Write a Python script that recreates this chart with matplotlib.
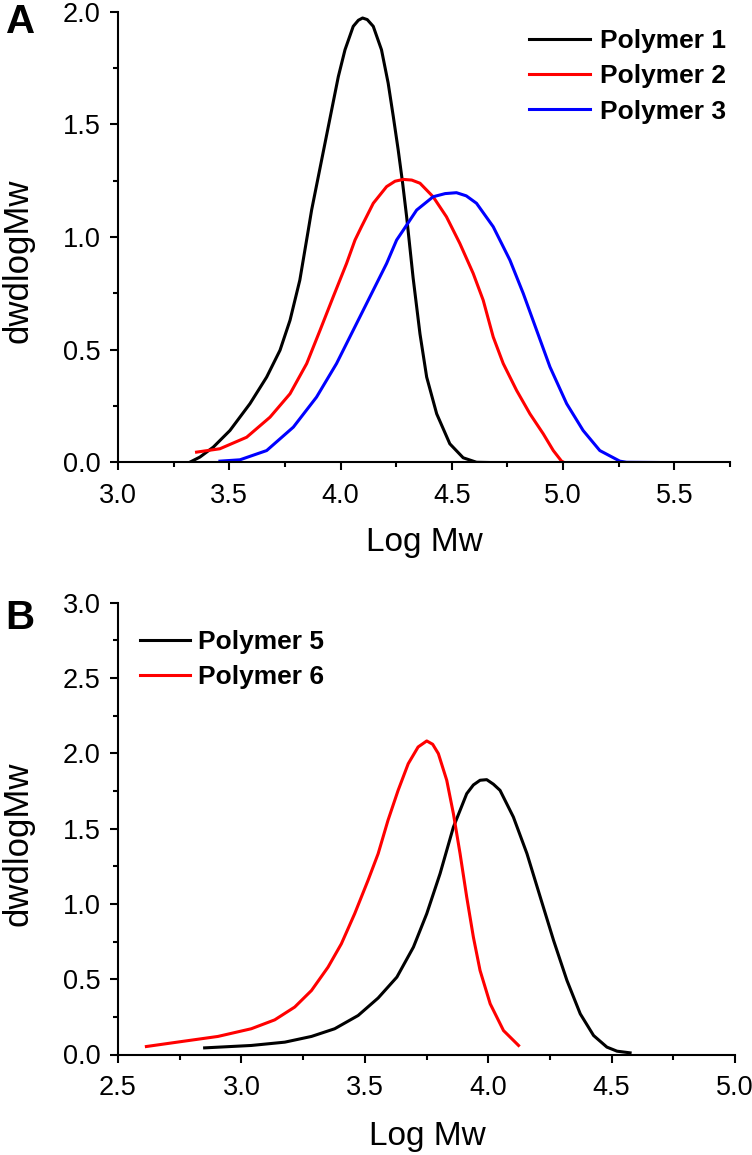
import matplotlib
matplotlib.use('Agg')
import matplotlib.pyplot as plt
from matplotlib.ticker import MultipleLocator


# panel A
p1_x = [3.32, 3.368, 3.428, 3.503, 3.593, 3.668, 3.728, 3.773, 3.817, 3.855, 3.870, 3.900, 3.930, 3.960,
	3.990, 4.020, 4.057, 4.080, 4.099, 4.120, 4.147, 4.184, 4.214, 4.237, 4.259, 4.279, 4.297, 4.326,
	4.357, 4.387, 4.432, 4.491, 4.551, 4.611, 4.664]
p1_y = [0.0, 0.024, 0.068, 0.142, 0.261, 0.379, 0.498, 0.631, 0.809, 1.031, 1.12, 1.268, 1.416, 1.564,
	1.712, 1.831, 1.935, 1.962, 1.972, 1.965, 1.935, 1.831, 1.683, 1.535, 1.387, 1.239, 1.09, 0.82,
	0.57, 0.379, 0.216, 0.083, 0.021, 0.001, 0.0]

p2_x = [3.353, 3.458, 3.578, 3.683, 3.773, 3.848, 3.908, 3.967, 4.027, 4.065, 4.094, 4.147, 4.207, 4.245,
	4.282, 4.320, 4.357, 4.416, 4.476, 4.536, 4.596, 4.641, 4.686, 4.731, 4.791, 4.851, 4.911, 4.956,
	4.993, 5.005]
p2_y = [0.046, 0.061, 0.112, 0.201, 0.305, 0.439, 0.587, 0.735, 0.883, 0.987, 1.046, 1.15, 1.224, 1.248,
	1.256, 1.253, 1.239, 1.179, 1.09, 0.972, 0.839, 0.72, 0.557, 0.439, 0.32, 0.216, 0.127, 0.053,
	0.006, 0.0]

p3_x = [3.458, 3.548, 3.668, 3.788, 3.892, 3.982, 4.057, 4.132, 4.207, 4.252, 4.282, 4.342, 4.416, 4.470,
	4.521, 4.565, 4.611, 4.686, 4.761, 4.821, 4.881, 4.941, 5.016, 5.090, 5.165, 5.255, 5.285, 5.427]
p3_y = [0.006, 0.012, 0.053, 0.157, 0.29, 0.439, 0.587, 0.735, 0.883, 0.987, 1.031, 1.12, 1.179, 1.193,
	1.197, 1.183, 1.15, 1.046, 0.898, 0.75, 0.587, 0.424, 0.261, 0.142, 0.053, 0.006, 0.001, 0.0]

# panel B
p5_x = [2.851, 3.040, 3.176, 3.284, 3.378, 3.473, 3.554, 3.630, 3.697, 3.751, 3.805, 3.859, 3.913, 3.940,
	3.967, 3.994, 4.021, 4.048, 4.102, 4.157, 4.211, 4.265, 4.319, 4.373, 4.427, 4.481, 4.522, 4.575]
p5_y = [0.044, 0.060, 0.082, 0.120, 0.171, 0.259, 0.375, 0.514, 0.713, 0.935, 1.201, 1.510, 1.732, 1.790,
	1.821, 1.825, 1.795, 1.754, 1.577, 1.334, 1.045, 0.757, 0.492, 0.270, 0.126, 0.049, 0.022, 0.011]

p6_x = [2.615, 2.770, 2.905, 3.040, 3.135, 3.216, 3.284, 3.351, 3.405, 3.459, 3.513, 3.554, 3.594, 3.635,
	3.676, 3.716, 3.751, 3.775, 3.798, 3.832, 3.859, 3.886, 3.913, 3.940, 3.967, 4.008, 4.062, 4.123]
p6_y = [0.053, 0.089, 0.120, 0.171, 0.230, 0.315, 0.425, 0.58, 0.735, 0.935, 1.156, 1.333, 1.555, 1.754,
	1.931, 2.042, 2.082, 2.060, 1.998, 1.821, 1.599, 1.334, 1.045, 0.779, 0.558, 0.337, 0.159, 0.060]

labels_a = ['Polymer 1', 'Polymer 2', 'Polymer 3']
labels_b = ['Polymer 5', 'Polymer 6']


plt.rcParams['font.family'] = ['Liberation Sans', 'DejaVu Sans']

W, H = 752., 1155.
fig = plt.figure(figsize=(W / 100, H / 100), dpi=100)
ax1 = fig.add_axes([118 / W, 1 - 462.5 / H, 612 / W, 450.8 / H])
ax2 = fig.add_axes([118 / W, 1 - 1054.5 / H, 617 / W, 451.8 / H])


def style(ax, xlim, ylim):
	ax.set_xlim(*xlim)
	ax.set_ylim(*ylim)
	for s in ('top', 'right'):
		ax.spines[s].set_visible(False)
	for s in ('left', 'bottom'):
		ax.spines[s].set_linewidth(1.5)
	ax.xaxis.set_major_locator(MultipleLocator(0.5))
	ax.xaxis.set_minor_locator(MultipleLocator(0.25))
	ax.yaxis.set_major_locator(MultipleLocator(0.5))
	ax.yaxis.set_minor_locator(MultipleLocator(0.25))
	ax.tick_params(which='major', direction='out', length=5.5, width=1.5, labelsize=19.5)
	ax.tick_params(which='minor', direction='out', length=3.5, width=1.5)
	ax.tick_params(axis='x', which='major', pad=9)
	ax.tick_params(axis='y', which='major', pad=7)
	ax.set_xticklabels(['%.1f' % t for t in ax.get_xticks()])
	ax.set_yticklabels(['%.1f' % t for t in ax.get_yticks()])


lw = 2.2
ax1.plot(p1_x, p1_y, color='#000000', lw=lw, label=labels_a[0])
ax1.plot(p2_x, p2_y, color='#ff0000', lw=lw, label=labels_a[1])
ax1.plot(p3_x, p3_y, color='#0000ff', lw=lw, label=labels_a[2])
style(ax1, (3.0, 5.75), (0, 2.0))
ax1.legend(loc='upper left', bbox_to_anchor=(0.671, 0.962), frameon=False,
	prop={'weight': 'bold', 'size': 19}, handlelength=2.31, handletextpad=0.38,
	labelspacing=0.43, borderpad=0, borderaxespad=0)

ax2.plot(p5_x, p5_y, color='#000000', lw=lw, label=labels_b[0])
ax2.plot(p6_x, p6_y, color='#ff0000', lw=lw, label=labels_b[1])
style(ax2, (2.5, 5.0), (0, 3.0))
ax2.legend(loc='upper left', bbox_to_anchor=(0.036, 0.940), frameon=False,
	prop={'weight': 'bold', 'size': 19}, handlelength=1.89, handletextpad=0.3,
	labelspacing=0.43, borderpad=0, borderaxespad=0)

# axis titles and panel letters placed by hand
fig.text(424 / W, 1 - 551 / H, 'Log Mw', fontsize=24, ha='center', va='baseline')
fig.text(427 / W, 1 - 1145 / H, 'Log Mw', fontsize=24, ha='center', va='baseline')
fig.text(18 / W, 1 - 261 / H, 'dwdlogMw', fontsize=25, rotation=90, ha='center', va='center')
fig.text(18 / W, 1 - 843.5 / H, 'dwdlogMw', fontsize=25, rotation=90, ha='center', va='center')
fig.text(21 / W, 1 - 22 / H, 'A', fontsize=29, fontweight='bold', ha='center', va='center')
fig.text(20 / W, 1 - 618 / H, 'B', fontsize=29, fontweight='bold', ha='center', va='center')

fig.savefig('out.png', dpi=100)
